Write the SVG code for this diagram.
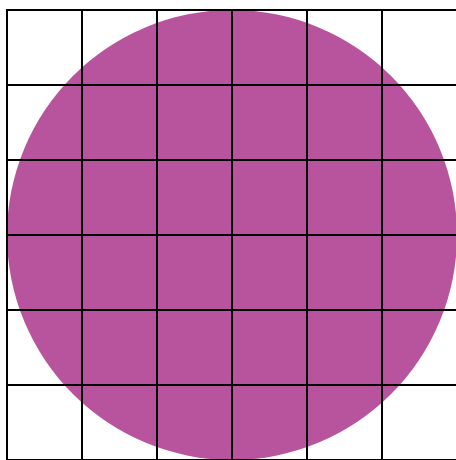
<svg xmlns="http://www.w3.org/2000/svg" width="456" height="460" viewBox="0 0 456 460">
<style>.g{stroke:#000;stroke-width:2;fill:none}</style>
<rect width="456" height="460" fill="#fff"/>
<circle cx="232" cy="235" r="225" fill="#b8549d"/>
<g class="g">
<path d="M6 10H458M6 85H458M6 160H458M6 235H458M6 310H458M6 385H458M6 460H458"/>
<path d="M7 9V461M82 9V461M157 9V461M232 9V461M307 9V461M382 9V461M457 9V461"/>
</g>
</svg>
